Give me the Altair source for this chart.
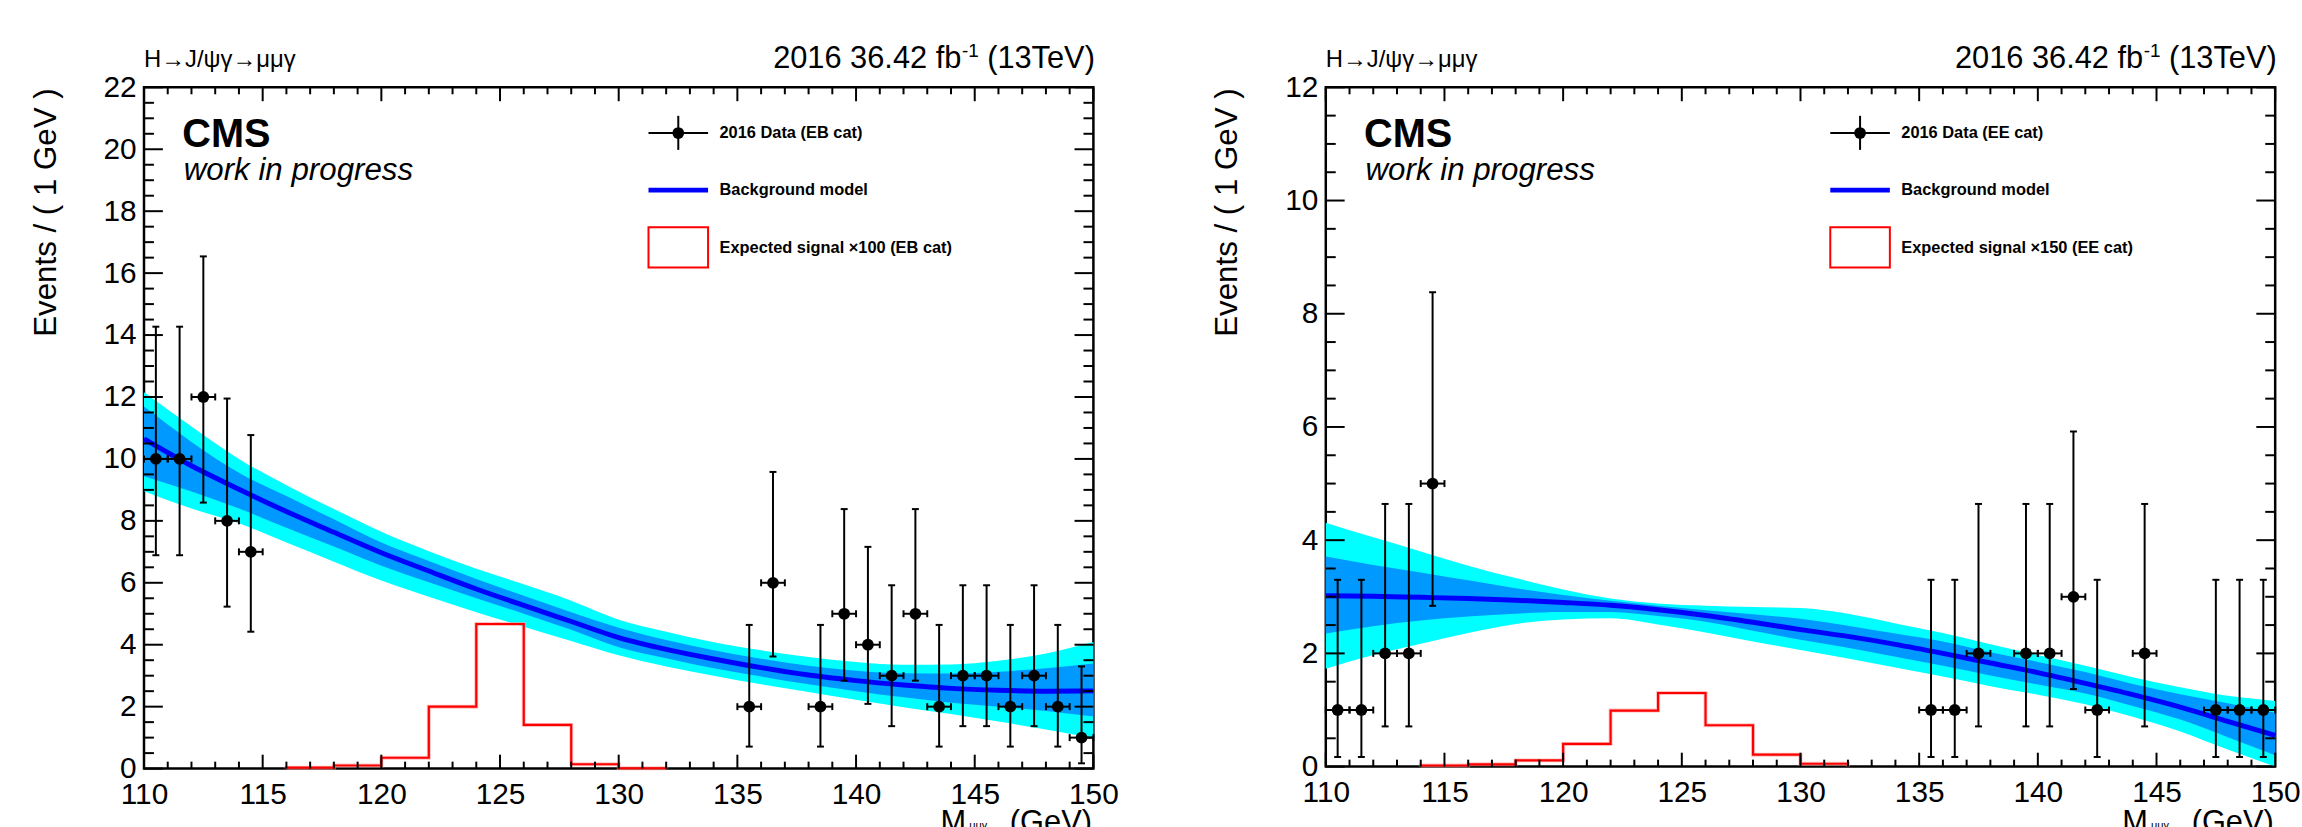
import altair as alt
import pandas as pd

FONT = "Liberation Sans"

# ---------------- data ----------------
X_GRID = [110, 112, 114, 116, 118, 120, 122, 124, 126, 128, 130,
          132, 134, 136, 138, 140, 142, 144, 146, 148, 150]

EB_bkg = [10.65, 9.78, 9.02, 8.30, 7.63, 6.97, 6.38, 5.80, 5.27, 4.75, 4.23,
          3.85, 3.54, 3.26, 3.02, 2.84, 2.70, 2.59, 2.53, 2.50, 2.51]
EB_1s_hi = [11.69, 10.55, 9.55, 8.80, 8.05, 7.30, 6.70, 6.12, 5.58, 5.05, 4.55,
            4.15, 3.82, 3.55, 3.32, 3.16, 3.08, 3.07, 3.13, 3.24, 3.39]
EB_1s_lo = [9.44, 8.95, 8.40, 7.78, 7.17, 6.55, 6.02, 5.50, 5.00, 4.48, 3.92,
            3.56, 3.24, 2.97, 2.72, 2.50, 2.30, 2.13, 2.00, 1.86, 1.68]
EB_2s_hi = [12.15, 11.05, 10.00, 9.15, 8.38, 7.65, 7.02, 6.45, 5.95, 5.42, 4.81,
            4.42, 4.08, 3.82, 3.60, 3.44, 3.35, 3.36, 3.48, 3.72, 4.09]
EB_2s_lo = [8.96, 8.40, 7.92, 7.30, 6.68, 6.07, 5.55, 5.05, 4.58, 4.12, 3.66,
            3.30, 3.00, 2.72, 2.47, 2.22, 1.98, 1.76, 1.52, 1.26, 0.99]

EE_bkg = [3.02, 3.01, 2.99, 2.97, 2.94, 2.90, 2.85, 2.77, 2.67, 2.55, 2.42,
          2.30, 2.16, 2.00, 1.83, 1.66, 1.47, 1.27, 1.05, 0.80, 0.55]
EE_1s_hi = [3.71, 3.56, 3.43, 3.29, 3.15, 3.03, 2.93, 2.84, 2.76, 2.69, 2.61,
            2.49, 2.35, 2.21, 2.02, 1.85, 1.67, 1.46, 1.28, 1.12, 0.95]
EE_1s_lo = [2.35, 2.48, 2.58, 2.65, 2.70, 2.73, 2.73, 2.66, 2.56, 2.40, 2.24,
            2.10, 1.94, 1.78, 1.61, 1.45, 1.29, 1.07, 0.83, 0.52, 0.20]
EE_2s_hi = [4.31, 4.05, 3.80, 3.55, 3.33, 3.13, 2.97, 2.88, 2.84, 2.82, 2.80,
            2.70, 2.53, 2.36, 2.16, 1.97, 1.78, 1.58, 1.40, 1.25, 1.16]
EE_2s_lo = [1.73, 1.97, 2.17, 2.36, 2.52, 2.60, 2.62, 2.51, 2.37, 2.21, 2.06,
            1.91, 1.75, 1.59, 1.42, 1.27, 1.10, 0.88, 0.62, 0.30, 0.00]

EB_x = [110.5, 111.5, 112.5, 113.5, 114.5, 135.5, 136.5, 138.5, 139.5, 140.5,
        141.5, 142.5, 143.5, 144.5, 145.5, 146.5, 147.5, 148.5, 149.5]
EB_n = [10, 10, 12, 8, 7, 2, 6, 2, 5, 4, 3, 5, 2, 3, 3, 2, 3, 2, 1]
EB_lo = [6.89, 6.89, 8.59, 5.23, 4.42, 0.71, 3.62, 0.71, 2.84, 2.09,
         1.37, 2.84, 0.71, 1.37, 1.37, 0.71, 1.37, 0.71, 0.17]
EB_hi = [14.27, 14.27, 16.54, 11.95, 10.77, 4.64, 9.58, 4.64, 8.38, 7.16,
         5.92, 8.38, 4.64, 5.92, 5.92, 4.64, 5.92, 4.64, 3.30]

EE_x = [110.5, 111.5, 112.5, 113.5, 114.5, 135.5, 136.5, 137.5, 139.5, 140.5,
        141.5, 142.5, 144.5, 147.5, 148.5, 149.5]
EE_n = [1, 1, 2, 2, 5, 1, 1, 2, 2, 2, 3, 1, 2, 1, 1, 1]
EE_lo = [0.17, 0.17, 0.71, 0.71, 2.84, 0.17, 0.17, 0.71, 0.71, 0.71,
         1.37, 0.17, 0.71, 0.17, 0.17, 0.17]
EE_hi = [3.30, 3.30, 4.64, 4.64, 8.38, 3.30, 3.30, 4.64, 4.64, 4.64,
         5.92, 3.30, 4.64, 3.30, 3.30, 3.30]

EB_sig_edges = [116, 118, 120, 122, 124, 126, 128, 130, 132]
EB_sig_vals = [0.03, 0.10, 0.35, 2.00, 4.67, 1.41, 0.14, 0.01]
EE_sig_edges = [114, 116, 118, 120, 122, 124, 126, 128, 130, 132]
EE_sig_vals = [0.02, 0.04, 0.11, 0.40, 0.99, 1.30, 0.73, 0.21, 0.05]

X_TICKS = [110, 115, 120, 125, 130, 135, 140, 145, 150]
X_MINOR = [v for v in range(110, 151) if v % 5 != 0]

DUMMY = pd.DataFrame({"a": [0]})


def panel(cat, factor, W, H, ymax, bkg, lo1, hi1, lo2, hi2,
          px, pn, plo, phi, sedges, svals, left_anchor, right_anchor):
    xs = alt.Scale(domain=[110, 150], nice=False, zero=False)
    ys = alt.Scale(domain=[0, ymax], nice=False, zero=False)
    y_major = list(range(0, ymax + 1, 2))
    y_minor = [v / 2 for v in range(0, 2 * ymax + 1) if v % 4 != 0]
    xaxis = alt.Axis(values=X_TICKS, ticks=False, domain=False, grid=False,
                     labelFont=FONT, labelFontSize=30, labelColor="black",
                     labelPadding=11, labelFlush=False, labelOverlap=False,
                     format="d", title=None)
    yaxis = alt.Axis(values=y_major, ticks=False, domain=False, grid=False,
                     labelFont=FONT, labelFontSize=30, labelColor="black",
                     labelPadding=8, labelFlush=False, labelOverlap=False,
                     format="d", title=None)

    def X(f):
        return alt.X(f, type="quantitative", scale=xs, axis=xaxis)

    def Y(f):
        return alt.Y(f, type="quantitative", scale=ys, axis=yaxis)

    band = pd.DataFrame({"m": X_GRID, "bkg": bkg, "lo1": lo1, "hi1": hi1,
                         "lo2": lo2, "hi2": hi2})
    base = alt.Chart(band)
    band2 = base.mark_area(color="#00ffff", interpolate="monotone").encode(
        x=X("m"), y=Y("lo2"), y2=alt.Y2("hi2"))
    band1 = base.mark_area(color="#0099ff", interpolate="monotone").encode(
        x=X("m"), y=Y("lo1"), y2=alt.Y2("hi1"))
    line = base.mark_line(color="#0000ff", strokeWidth=5,
                          interpolate="monotone").encode(x=X("m"), y=Y("bkg"))

    sx = [sedges[0]] + list(sedges[:-1]) + [sedges[-1], sedges[-1]]
    sy = [0] + list(svals) + [svals[-1], 0]
    sig_df = pd.DataFrame({"e": sx, "v": sy, "i": list(range(len(sx)))})
    sig_glow = alt.Chart(sig_df).mark_line(color="#ff9999", strokeWidth=4,
                                           opacity=0.6,
                                           interpolate="step-after").encode(
        x=X("e"), y=Y("v"), order=alt.Order("i:Q"))
    sig = alt.Chart(sig_df).mark_line(color="#ff0000", strokeWidth=2.2,
                                      interpolate="step-after").encode(
        x=X("e"), y=Y("v"), order=alt.Order("i:Q"))

    pts_df = pd.DataFrame({"m": px, "n": pn, "lo": plo, "hi": phi})
    pb = alt.Chart(pts_df).transform_calculate(
        xl="datum.m - 0.5", xr="datum.m + 0.5")
    vbar = pb.mark_rule(color="black", strokeWidth=2).encode(
        x=X("m"), y=Y("lo"), y2=alt.Y2("hi"))
    hbar = pb.mark_rule(color="black", strokeWidth=2).encode(
        x=X("xl"), x2=alt.X2("xr"), y=Y("n"))
    cap_lo = pb.mark_tick(orient="horizontal", size=7, thickness=2,
                          color="black", opacity=1).encode(x=X("m"), y=Y("lo"))
    cap_hi = pb.mark_tick(orient="horizontal", size=7, thickness=2,
                          color="black", opacity=1).encode(x=X("m"), y=Y("hi"))
    cap_l = pb.mark_tick(orient="vertical", size=7, thickness=2,
                         color="black", opacity=1).encode(x=X("xl"), y=Y("n"))
    cap_r = pb.mark_tick(orient="vertical", size=7, thickness=2,
                         color="black", opacity=1).encode(x=X("xr"), y=Y("n"))
    dots = pb.mark_circle(size=140, color="black", opacity=1).encode(
        x=X("m"), y=Y("n"))

    # inner ticks of the frame
    def xt(vals, L):
        d = alt.Chart(pd.DataFrame({"t": vals}))
        b = d.mark_rule(color="black", strokeWidth=2).encode(
            x=X("t"), y=alt.value(H), y2=alt.value(H - L))
        t = d.mark_rule(color="black", strokeWidth=2).encode(
            x=X("t"), y=alt.value(0), y2=alt.value(L))
        return [b, t]

    def yt(vals, L):
        d = alt.Chart(pd.DataFrame({"t": vals}))
        l = d.mark_rule(color="black", strokeWidth=2).encode(
            y=Y("t"), x=alt.value(0), x2=alt.value(L))
        r = d.mark_rule(color="black", strokeWidth=2).encode(
            y=Y("t"), x=alt.value(W), x2=alt.value(W - L))
        return [l, r]

    ticks = xt(X_TICKS, 14) + xt(X_MINOR, 7) + yt(y_major, 19) + yt(y_minor, 10)

    d = alt.Chart(DUMMY)

    def txt(s, x, y, size, align="left", baseline="alphabetic",
            weight="normal", style="normal", angle=0):
        return d.mark_text(text=s, font=FONT, fontSize=size, align=align,
                           baseline=baseline, fontWeight=weight,
                           fontStyle=style, angle=angle, color="black").encode(
            x=alt.value(x), y=alt.value(y))

    cms = txt("CMS", 38.5, 60.3, 40, weight="bold")
    wip = txt("work in progress", 40, 93.7, 31.5, style="italic")
    proc = txt("H\u2192J/\u03c8\u03b3\u2192\u03bc\u03bc\u03b3", 0, -20, 24)
    tr = W + 1.5
    lumi_a = txt("(13TeV)", tr, -19, 31, align="right")
    lumi_b = txt("-1", tr - 117, -31, 19, align="right")
    lumi_c = txt("2016 36.42 fb", tr - 134.5, -19, 31, align="right")
    ytitle = txt("Events / ( 1 GeV )", -98, 1, 31.5, align="right",
                 baseline="middle", angle=270)
    xt_gev = txt("(GeV)", W - 1.5, 750, 31, align="right")
    xt_m = txt("M", 802, 750, 31)
    xt_sub = txt("\u03bc\u03bc\u03b3", 831, 747, 11)

    # legend
    leg = [
        d.mark_rule(color="black", strokeWidth=2).encode(
            x=alt.value(508), x2=alt.value(568), y=alt.value(46)),
        d.mark_rule(color="black", strokeWidth=2).encode(
            x=alt.value(538), y=alt.value(28.7), y2=alt.value(63)),
        d.mark_circle(size=140, color="black", opacity=1).encode(
            x=alt.value(538), y=alt.value(46)),
        txt("2016 Data (%s cat)" % cat, 579.5, 46, 16.5, baseline="middle",
            weight="bold"),
        d.mark_rule(color="#0000ff", strokeWidth=5).encode(
            x=alt.value(508), x2=alt.value(568), y=alt.value(103.5)),
        txt("Background model", 579.5, 103.5, 16.5, baseline="middle",
            weight="bold"),
        d.mark_rect(fill="white", fillOpacity=0, stroke="#ff0000",
                    strokeWidth=2).encode(
            x=alt.value(508), x2=alt.value(568), y=alt.value(141),
            y2=alt.value(181.5)),
        txt("Expected signal  \u00d7%d (%s cat)" % (factor, cat), 579.5, 161.5,
            16.5, baseline="middle", weight="bold"),
    ]

    anchor = d.mark_rule(opacity=0, strokeWidth=0.01).encode(
        x=alt.value(left_anchor), x2=alt.value(right_anchor), y=alt.value(-83))

    layers = ([band2, band1, line, sig_glow, sig, vbar, hbar, cap_lo, cap_hi,
               cap_l, cap_r, dots] + ticks +
              [cms, wip, proc, lumi_a, lumi_b, lumi_c, ytitle, xt_gev, xt_m,
               xt_sub] + leg + [anchor])
    return alt.layer(*layers).properties(width=W, height=H)


left = panel("EB", 100, 956, 686, 22, EB_bkg, EB_1s_lo, EB_1s_hi, EB_2s_lo,
             EB_2s_hi, EB_x, EB_n, EB_lo, EB_hi, EB_sig_edges, EB_sig_vals,
             -143, 956 + 40)
right = panel("EE", 150, 956, 684, 12, EE_bkg, EE_1s_lo, EE_1s_hi, EE_2s_lo,
              EE_2s_hi, EE_x, EE_n, EE_lo, EE_hi, EE_sig_edges, EE_sig_vals,
              -190, 956)

chart = alt.hconcat(left, right, spacing=0).properties(
    padding={"left": 0, "top": 0, "right": 0, "bottom": 0},
    background="white",
).configure_view(stroke="black", strokeWidth=2.5)

chart.save("out.html", embed_options={"renderer": "svg", "actions": False})
